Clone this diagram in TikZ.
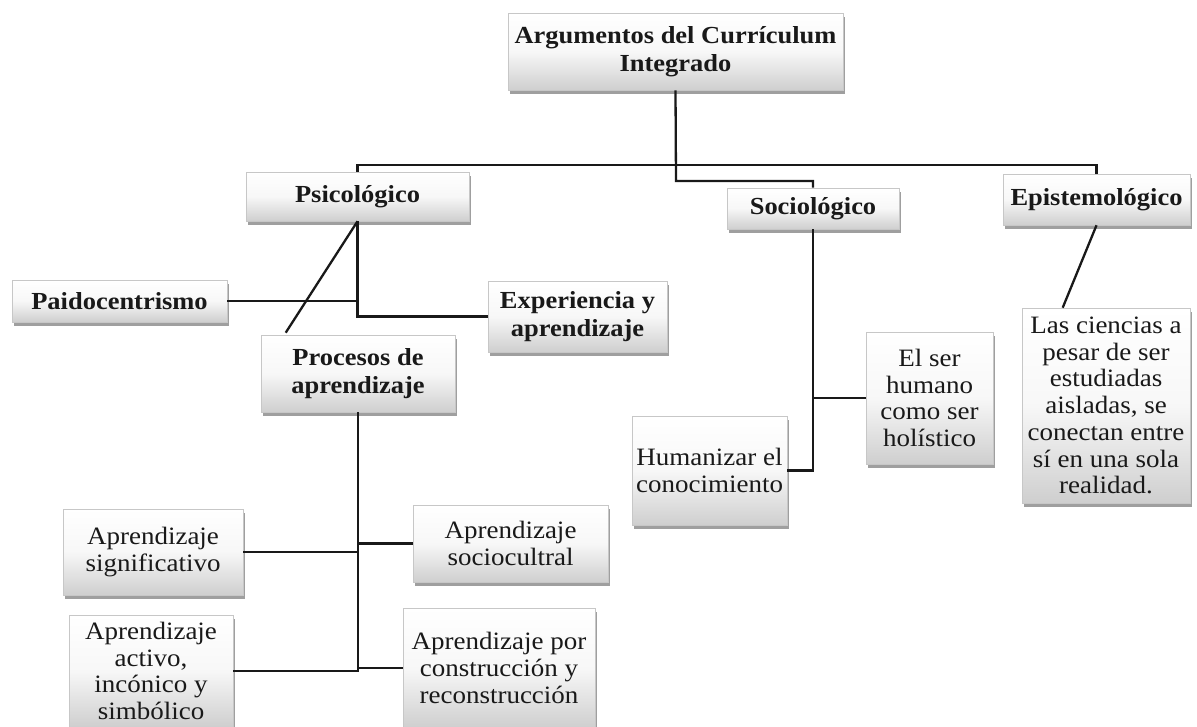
\documentclass[tikz,border=0pt]{standalone}
\usepackage{fontspec}
\setmainfont[FakeStretch=1.08]{Liberation Serif}
\usetikzlibrary{shadows}
\tikzset{
  box/.style={draw=black!22, line width=0.6pt, top color=white, bottom color=black!19, middle color=black!3,
    drop shadow={shadow xshift=2pt, shadow yshift=-4pt, opacity=0.5, fill=black!75},
    align=center, inner sep=0pt, text=black!90, font=\fontsize{25}{26.7}\selectfont},
  bbox/.style={box, font=\fontsize{24.5}{27.5}\selectfont\bfseries},
  conn/.style={line width=2.3pt, draw=black!90},
}
\begin{document}
\begin{tikzpicture}[x=1pt, y=-1pt]
\useasboundingbox (0,0) rectangle (1197,727);
% nodes
\node[bbox, minimum width=335, minimum height=77] (top) at (675.5,51.5) {Argumentos del Currículum\\Integrado};
\node[bbox, minimum width=223, minimum height=49] (psy) at (357.5,196.5) {Psicológico};
\node[bbox, minimum width=172, minimum height=41] (soc) at (813,208.5) {Sociológico};
\node[bbox, minimum width=187, minimum height=51] (epi) at (1096.5,199.5) {Epistemológico};
\node[bbox, minimum width=215, minimum height=42] (pai) at (119.5,301) {Paidocentrismo};
\node[bbox, minimum width=179, minimum height=71] (exp) at (577.5,316.5) {Experiencia y\\aprendizaje};
\node[bbox, minimum width=194, minimum height=77] (pro) at (358,373.5) {Procesos de\\aprendizaje};
\node[box, minimum width=127, minimum height=132] (ser) at (929.5,398) {El ser\\humano\\como ser\\holístico};
\node[box, minimum width=155, minimum height=109] (hum) at (709.5,470.5) {Humanizar el\\conocimiento};
\node[box, minimum width=168, minimum height=195] (cie) at (1106,405.5) {Las ciencias a\\pesar de ser\\estudiadas\\aisladas, se\\conectan entre\\sí en una sola\\realidad.};
\node[box, minimum width=180, minimum height=86] (sig) at (153,552) {Aprendizaje\\significativo};
\node[box, minimum width=195, minimum height=77] (soci) at (510.5,543.5) {Aprendizaje\\sociocultral};
\node[box, minimum width=164, minimum height=112] (act) at (151,671) {Aprendizaje\\activo,\\incónico y\\simbólico};
\node[box, minimum width=192, minimum height=120] (por) at (499,668) {Aprendizaje por\\construcción y\\reconstrucción};
% connectors
\coordinate (j1) at (676,165);
\coordinate (j2) at (676,181);
\draw[conn] (top.south) -- (j2) -| (soc.north);
\draw[conn] (psy.north) |- (j1) -| (epi.north);
\draw[conn] (soc.south) |- (hum.east);
\draw[conn] (soc.south) |- (ser.west);
\draw[conn] (epi.south) -- ([xshift=41pt]cie.north west);
\draw[conn] (pai.east) -- (pai.east -| psy.south);
\draw[conn] (psy.south) |- (exp.west);
\draw[conn] (psy.south) -- ([xshift=25pt,yshift=2pt]pro.north west);
\draw[conn] (pro.south) |- (act.east);
\draw[conn] (pro.south) |- (sig.east);
\draw[conn] (pro.south) |- (soci.west);
\draw[conn] (pro.south) |- (por.west);
\end{tikzpicture}
\end{document}
